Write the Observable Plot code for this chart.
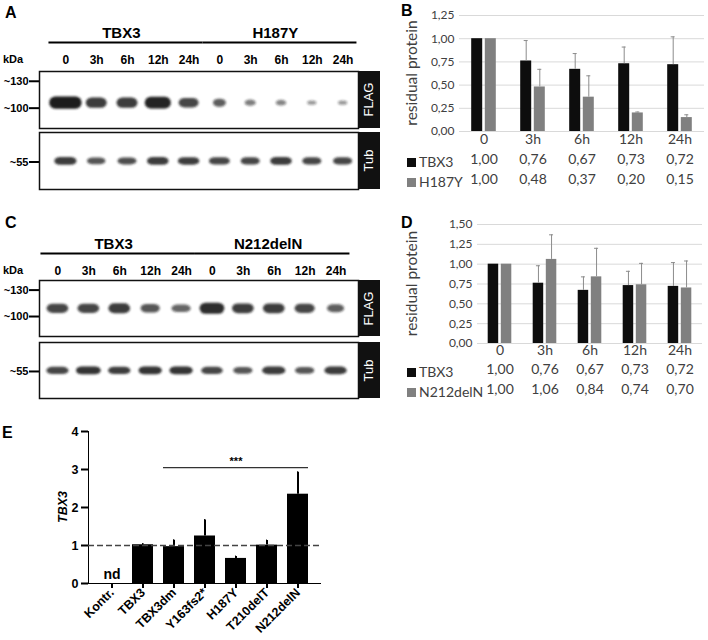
<!DOCTYPE html>
<html><head><meta charset="utf-8">
<script src="https://cdn.jsdelivr.net/npm/d3@7"></script>
<script src="https://cdn.jsdelivr.net/npm/@observablehq/plot@0.6"></script>
<style>
body{margin:0;background:#fff;}
#root{position:relative;width:708px;height:640px;overflow:hidden;font-family:"Liberation Sans",Arial,sans-serif;}
.lbl{position:absolute;white-space:nowrap;line-height:1;}
.letter{font-weight:bold;font-size:16px;color:#000;}
.strip{position:absolute;background:#111;color:#fff;display:flex;align-items:center;justify-content:center;}
.strip span{transform:rotate(-90deg);font-size:13px;white-space:nowrap;}
#root svg g[aria-label^="y-axis"] path, #root svg g[aria-label^="y-axis"] line,
#root svg g[aria-label^="x-axis"] path, #root svg g[aria-label^="x-axis"] line{stroke-width:2;}
.sq{display:inline-block;width:9px;height:9px;margin-right:3px;vertical-align:0px;}
</style></head><body><div id="root"></div>
<script>
// ---------- data ----------
const blotLanes = ["0","3h","6h","12h","24h","0","3h","6h","12h","24h"];
const groupsA = ["TBX3","H187Y"];
const groupsC = ["TBX3","N212delN"];
const markersFlag = [130, 100];
const markersTub = [55];
// band width (fraction of lane) and signal (0..1) read from the blots
const flagAWidth = [1.05,0.68,0.68,0.85,0.65,0.42,0.36,0.34,0.3,0.3];
const flagASignal = [1,0.8,0.8,0.95,0.7,0.55,0.35,0.3,0.15,0.15];
const tubAWidth = [0.72,0.6,0.62,0.7,0.7,0.68,0.62,0.7,0.62,0.62];
const tubASignal = [0.8,0.6,0.65,0.8,0.75,0.7,0.7,0.8,0.7,0.7];
const flagCWidth = [0.7,0.7,0.7,0.62,0.62,0.8,0.7,0.7,0.65,0.55];
const flagCSignal = [0.7,0.7,0.8,0.6,0.5,0.9,0.75,0.75,0.7,0.55];
const tubCWidth = [0.72,0.8,0.72,0.75,0.75,0.7,0.62,0.75,0.62,0.72];
const tubCSignal = [0.7,0.85,0.75,0.85,0.85,0.7,0.6,0.8,0.6,0.8];

const timepoints = ["0","3h","6h","12h","24h"];
const tbx3Residual = [1.00,0.76,0.67,0.73,0.72];
const tbx3ResidualErr = [0,0.22,0.17,0.18,0.30];
const h187yResidual = [1.00,0.48,0.37,0.20,0.15];
const h187yResidualErr = [0,0.19,0.23,0.01,0.03];
const n212Residual = [1.00,1.06,0.84,0.74,0.70];
const n212ResidualErr = [0,0.31,0.36,0.27,0.34];
const ticksB = [0,0.25,0.5,0.75,1,1.25];
const ticksD = [0,0.25,0.5,0.75,1,1.25,1.5];

const eCats = ["Kontr.","TBX3","TBX3dm","Y163fs2*","H187Y","T210delT","N212delN"];
const eValues = [0,1.02,0.97,1.25,0.66,1.01,2.35];
const eErrors = [0,0.02,0.17,0.42,0.05,0.12,0.58];
const eNotDetected = ["Kontr."];
const eTicks = [0,1,2,3,4];
const eSig = {from:"TBX3dm", to:"N212delN", mid:"H187Y", y:3.05, label:"***"};

// ---------- helpers ----------
const root = document.getElementById("root");
function place(el, left, top){ el.style.position="absolute"; el.style.left=left+"px"; el.style.top=top+"px"; root.appendChild(el); return el; }
function label(html, left, top, cls, css){ const d=document.createElement("div"); d.className="lbl "+(cls||""); d.innerHTML=html; if(css) d.style.cssText+=css; place(d,left,top); return d; }
function strip(text, left, top, w, h){ const d=document.createElement("div"); d.className="strip"; d.style.width=w+"px"; d.style.height=h+"px"; d.innerHTML="<span>"+text+"</span>"; place(d,left,top); }
const comma = v => d3.format(".2f")(v).replace(".", ",");
let blurN = 0;
function blur(svg, sd){
  const id = "blur"+(blurN++);
  const f = d3.select(svg).insert("defs", ":first-child").append("filter").attr("id", id)
    .attr("x","-50%").attr("y","-100%").attr("width","200%").attr("height","300%");
  f.append("feGaussianBlur").attr("stdDeviation", sd);
  d3.select(svg).selectAll('g[aria-label="rect"]').attr("filter", `url(#${id})`);
}
const boldStyle = {fontFamily:"Liberation Sans, Arial, sans-serif", fontWeight:"bold", fontSize:"12px", color:"#000", background:"transparent", overflow:"visible"};

// ---------- western blot panels ----------
function blotPanel(o){
  const lanes = blotLanes.map((t,i)=>({i, t}));
  const groups = o.groups.map((g,k)=>({name:g, first:k*5, last:k*5+4}));
  const header = Plot.plot({
    width:380, height:o.headerH, margin:0,
    style:boldStyle,
    x:{domain:[-0.5,9.5], range:o.laneRange, axis:null},
    y:{type:"point", domain:["title","rule","gap","lane"], range:o.headerRows, padding:0, axis:null},
    marks:[
      Plot.text(groups, {x:d=>(d.first+d.last)/2 - 0.2, y:()=>"title", text:"name", fontSize:15}),
      Plot.ruleY(groups, {x1:d=>d.first-0.55, x2:d=>d.last+0.45, y:()=>"rule", strokeWidth:2.2, stroke:"#000"}),
      Plot.text(lanes, {x:"i", y:()=>"lane", text:"t", fontSize:12})
    ]
  });
  place(header, 0, o.top);
  const box = (widths, signals, domain, center, ticks, thick, thin) => {
    const bands = widths.map((w,i)=>({i, w, s:signals[i]}));
    const svg = Plot.plot({
      width:380, height:o.boxH+2, marginTop:1, marginBottom:1, marginLeft:39, marginRight:22,
      style:{...boldStyle, fontSize:"11px"},
      x:{domain:[-0.5,9.5], range:o.laneRange, axis:null},
      y:{type:"log", domain, ticks, tickFormat:d=>"~"+d, tickSize:10, tickPadding:1, label:null},
      marks:[
        Plot.rect(bands, {x1:d=>d.i-d.w/2, x2:d=>d.i+d.w/2,
          y1:d=>center*10**(-(thin+thick*d.s)), y2:d=>center*10**(thin+thick*d.s),
          fill:"#1c1c1c", fillOpacity:d=>0.35+0.65*d.s, rx:6}),
        Plot.frame({stroke:"#111", strokeWidth:1.5})
      ]
    });
    blur(svg, 1.3);
    return svg;
  };
  place(box(o.flagW, o.flagS, [82,143], o.flagCenter, markersFlag, 0.02, 0.006), 0, o.flagTop-1);
  strip("FLAG", 358, o.flagTop, 22, o.boxH);
  place(box(o.tubW, o.tubS, [42.5,72.5], 55.3, markersTub, 0.011, 0.007), 0, o.tubTop-1);
  strip("Tub", 358, o.tubTop, 22, o.boxH);
  label("kDa", 3, o.kdaTop, "", "font-weight:bold;font-size:11px;");
}

blotPanel({top:0, headerH:68, headerRows:[33,60], laneRange:[50,358], groups:groupsA,
  flagW:flagAWidth, flagS:flagASignal, tubW:tubAWidth, tubS:tubASignal,
  flagTop:71, tubTop:132, boxH:57, flagCenter:105, kdaTop:54});
blotPanel({top:200, headerH:80, headerRows:[43,71], laneRange:[42,351], groups:groupsC,
  flagW:flagCWidth, flagS:flagCSignal, tubW:tubCWidth, tubS:tubCSignal,
  flagTop:280, tubTop:342, boxH:56, flagCenter:108, kdaTop:265});

// ---------- residual protein charts ----------
function residualChart(o){
  const bw = (328 - o.ml - o.mr) / timepoints.length;
  const ins = (bw - o.barW) / 2;
  const off = o.barW/2 + 1.3;
  const series = o.series.map((s,k)=>({...s, dx: k===0 ? -off : off,
    data: timepoints.map((t,i)=>({t, v:s.values[i], e:s.errors[i]}))}));
  const marks = [Plot.ruleY(o.ticks, {stroke:"#d9d9d9"})];
  for (const s of series){
    marks.push(Plot.barY(s.data, {x:"t", y:"v", fill:s.color, insetLeft:ins, insetRight:ins, dx:s.dx}));
  }
  for (const s of series){
    const ed = s.data.filter(d=>d.e>0);
    marks.push(Plot.ruleX(ed, {x:"t", y1:"v", y2:d=>d.v+d.e, dx:s.dx, stroke:"#8c8c8c", strokeWidth:1}));
    marks.push(Plot.tickY(ed, {x:"t", y:d=>d.v+d.e, dx:s.dx, insetLeft:bw/2-2, insetRight:bw/2-2, stroke:"#8c8c8c", strokeWidth:1}));
  }
  marks.push(Plot.text(timepoints, {x:d=>d, text:d=>d, frameAnchor:"bottom", dy:o.rowDy[0], fontSize:14}));
  series.forEach((s,k)=>{
    marks.push(Plot.text(s.data, {x:"t", text:d=>comma(d.v), frameAnchor:"bottom", dy:o.rowDy[k+1], fontSize:14}));
  });
  const svg = Plot.plot({
    width:328, height:o.height, marginTop:o.mt, marginBottom:o.mb, marginLeft:o.ml, marginRight:o.mr,
    style:{fontFamily:"Lato, 'Open Sans', sans-serif", fontSize:"12px", color:"#404040", background:"transparent", overflow:"visible"},
    x:{domain:timepoints, padding:0, axis:null},
    y:{domain:[0, o.ticks[o.ticks.length-1]], ticks:o.ticks, tickFormat:comma, tickSize:0, tickPadding:5, label:null},
    marks
  });
  place(svg, 380, o.top);
  series.forEach((s,k)=>{
    label(`<span class="sq" style="background:${s.color}"></span>${s.name}`, 407, o.top + o.height - o.mb + o.rowDy[k+1] - 8,
      "", "font-family:Lato,'Open Sans',sans-serif;font-size:14px;color:#404040;");
  });
  label("residual protein", 0, 0, "", `font-family:Lato,'Open Sans',sans-serif;font-size:15.5px;color:#404040;transform-origin:0 0;transform:translate(${o.ylabX}px,${o.top + o.mt + (o.height-o.mt-o.mb)/2}px) rotate(-90deg) translate(-50%,-50%);`);
}

residualChart({top:0, height:195, mt:15, mb:64, ml:79, mr:4, barW:11, ticks:ticksB, rowDy:[12,32,52], ylabX:412,
  series:[{name:"TBX3", values:tbx3Residual, errors:tbx3ResidualErr, color:"#0d0d0d"},
          {name:"H187Y", values:h187yResidual, errors:h187yResidualErr, color:"#808080"}]});
residualChart({top:200, height:200, mt:24, mb:57, ml:97, mr:6, barW:10.5, ticks:ticksD, rowDy:[11,30,50], ylabX:412,
  series:[{name:"TBX3", values:tbx3Residual, errors:tbx3ResidualErr, color:"#0d0d0d"},
          {name:"N212delN", values:n212Residual, errors:n212ResidualErr, color:"#808080"}]});

// ---------- panel E ----------
{
  const eData = eCats.map((c,i)=>({c, v:eValues[i], e:eErrors[i]}));
  const bw = (330-88-10)/eCats.length;
  const cap = (bw-13)/2;
  const ed = eData.filter(d=>d.e>0);
  const svg = Plot.plot({
    width:330, height:220, marginTop:11, marginBottom:57, marginLeft:88, marginRight:10,
    style:{...boldStyle, fontSize:"12.5px"},
    x:{domain:eCats, padding:0.335, tickRotate:-45, tickSize:5, tickPadding:2, line:true, label:null},
    y:{domain:[0,4], ticks:eTicks, tickFormat:d3.format("d"), tickSize:7, tickPadding:3, line:true, label:null},
    marks:[
      Plot.barY(eData, {x:"c", y:"v", fill:"#000"}),
      Plot.ruleX(ed, {x:"c", y1:"v", y2:d=>d.v+d.e, stroke:"#000", strokeWidth:2}),
      Plot.tickY(ed, {x:"c", y:d=>d.v+d.e, insetLeft:cap, insetRight:cap, stroke:"#000", strokeWidth:2}),
      Plot.ruleY([1], {stroke:"#444", strokeWidth:1.5, strokeDasharray:"6,3"}),
      Plot.ruleY([eSig], {x1:"from", x2:"to", y:"y", stroke:"#333", strokeWidth:1.2}),
      Plot.text([eSig], {x:"mid", y:"y", text:"label", dy:-6, fontSize:11}),
      Plot.text(eNotDetected, {x:d=>d, y:()=>0, text:()=>"nd", dy:-9, fontSize:14})
    ]
  });
  place(svg, 0, 420);
  label("TBX3", 0, 0, "", "font-weight:bold;font-style:italic;font-size:12.5px;transform-origin:0 0;transform:translate(63px,507px) rotate(-90deg) translate(-50%,-50%);");
}

// ---------- panel letters ----------
label("A", 5, 5, "letter");
label("B", 401, 3, "letter");
label("C", 5, 215, "letter");
label("D", 401, 215, "letter");
label("E", 2, 425, "letter");
</script></body></html>
